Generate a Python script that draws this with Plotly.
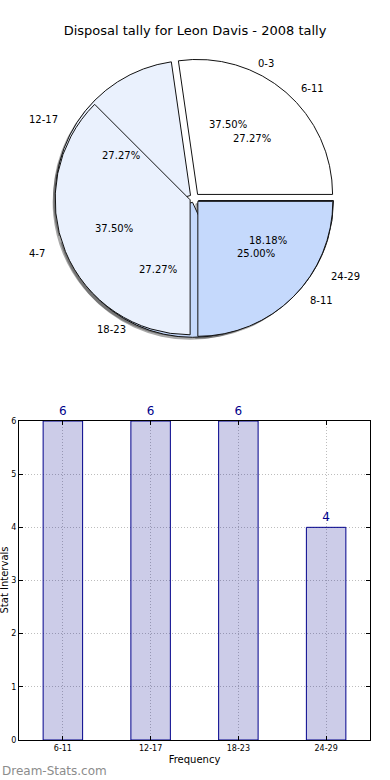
import math
import plotly.graph_objects as go

# ---------------- data ----------------
chart_title = "Disposal tally for Leon Davis - 2008 tally"
pie_a_labels = ["0-3", "4-7", "8-11"]
pie_a_values = [3, 3, 2]
pie_b_labels = ["6-11", "12-17", "18-23", "24-29"]
pie_b_values = [6, 6, 6, 4]
bar_categories = ["6-11", "12-17", "18-23", "24-29"]
bar_values = [6, 6, 6, 4]
y_tick_values = [0, 1, 2, 3, 4, 5, 6]
x_title = "Frequency"
y_title = "Stat Intervals"
watermark = "Dream-Stats.com"

# ---------------- layout geometry ----------------
W, H = 390, 780
ML, MR, MT, MB = 19, 20, 0, 40
PW, PH = W - ML - MR, H - MT - MB


def px2x(px):
    return (px - ML) / PW


def py2y(py):
    return 1 - (py - MT) / PH


CX, CY = 194.5, 198.0   # pie centre (px)
R = 135.0               # pie radius (px)
PULL = 0.035
RX, RY = 145.3, 131.9   # text placement radii (px)
half = R * (1 + PULL)


def dom(dx=0.0, dy=0.0):
    return dict(x=[px2x(CX - half + dx), px2x(CX + half + dx)],
                y=[py2y(CY + half + dy), py2y(CY - half + dy)])


LIGHT = "#eaf1fd"
BLUE = "#c5d9fc"
CLEAR = "rgba(255,255,255,0)"
EDGE = "#111111"
pie_a_colors = [CLEAR, LIGHT, BLUE]
pie_a_edges = [CLEAR, EDGE, EDGE]
pie_b_colors = ["#ffffff", LIGHT, BLUE, BLUE]
pie_b_edges = [EDGE] * 4

FONT = "DejaVu Sans"


def rotation_for(values):
    a1 = 360.0 * values[0] / sum(values)
    return 90 - a1


def pie(labels, values, colors, domain, line_w=1, line_c=EDGE):
    return go.Pie(labels=labels, values=values, sort=False,
                  direction="counterclockwise", rotation=rotation_for(values),
                  pull=[PULL] * len(values), domain=domain,
                  marker=dict(colors=colors, line=dict(color=line_c, width=line_w)),
                  textinfo="none", hoverinfo="label+percent", showlegend=False)


fig = go.Figure()
shadow = "rgba(40,40,40,0.4)"
fig.add_trace(pie(pie_b_labels, pie_b_values, [CLEAR, shadow, shadow, shadow], dom(-2.5, 2.5), 0))
fig.add_trace(pie(pie_a_labels, pie_a_values, [CLEAR, shadow, shadow], dom(-2.5, 2.5), 0))
fig.add_trace(pie(pie_b_labels, pie_b_values, pie_b_colors, dom(), 1, pie_b_edges))
fig.add_trace(pie(pie_a_labels, pie_a_values, pie_a_colors, dom(), 1, pie_a_edges))

annotations = []


def pie_text(labels, values):
    total = sum(values)
    start = 0.0
    for lab, v in zip(labels, values):
        sweep = 360.0 * v / total
        mid = math.radians(start + sweep / 2)
        start += sweep
        c, s = math.cos(mid), math.sin(mid)
        # category label
        annotations.append(dict(
            x=px2x(CX + 1.1 * RX * c), y=py2y(CY - 1.1 * RY * s),
            xref="paper", yref="paper", text=lab, showarrow=False,
            xanchor="left" if c > 0 else "right", yanchor="middle",
            font=dict(family=FONT, size=10, color="#000")))
        # percentage
        annotations.append(dict(
            x=px2x(CX + 0.6 * RX * c), y=py2y(CY - 0.6 * RY * s),
            xref="paper", yref="paper", text=f"{100.0 * v / total:.2f}%",
            showarrow=False, xanchor="center", yanchor="middle",
            font=dict(family=FONT, size=10, color="#000")))


pie_text(pie_a_labels, pie_a_values)
pie_text(pie_b_labels, pie_b_values)

# ---------------- bar chart ----------------
fig.add_trace(go.Bar(
    x=bar_categories, y=bar_values, width=0.45,
    marker=dict(color="rgba(0,0,139,0.2)", line=dict(color="#00008b", width=1)),
    text=[str(v) for v in bar_values], textposition="outside",
    textfont=dict(family=FONT, size=12, color="#00008b"),
    cliponaxis=False, showlegend=False, hoverinfo="x+y"))

axis_common = dict(showline=True, linecolor="#000", linewidth=1, mirror="ticks",
                   ticks="inside", ticklen=4, tickcolor="#000", automargin=False,
                   showgrid=True, gridcolor="#bdbdbd", griddash="1px,2px", gridwidth=1,
                   zeroline=False, tickfont=dict(family=FONT, size=8, color="#000"))

fig.update_layout(
    width=W, height=H,
    margin=dict(l=ML, r=MR, t=MT, b=MB, autoexpand=False),
    paper_bgcolor="#fff", plot_bgcolor="#fff",
    title=dict(text=chart_title, x=0.5, xref="container", xanchor="center",
               y=1 - 30 / H, yref="container", yanchor="middle", automargin=False,
               font=dict(family=FONT, size=13, color="#000")),
    xaxis=dict(domain=[0, 1], type="category", range=[-0.5, 3.5],
               title=dict(text=x_title, standoff=4,
                          font=dict(family=FONT, size=10, color="#000")),
               **axis_common),
    yaxis=dict(domain=[0, py2y(421)], range=[0, 6], tickvals=y_tick_values,
               **axis_common),
    font=dict(family=FONT),
)

annotations.append(dict(x=px2x(4), y=py2y(580.5), xref="paper", yref="paper",
                        text=y_title, textangle=-90, showarrow=False,
                        xanchor="center", yanchor="middle",
                        font=dict(family=FONT, size=10, color="#000")))
annotations.append(dict(x=px2x(0), y=py2y(771), xref="paper", yref="paper",
                        text=watermark, showarrow=False,
                        xanchor="left", yanchor="middle",
                        font=dict(family=FONT, size=12, color="#8c8c8c")))
fig.update_layout(annotations=annotations)

# the page's default 8px body margin would shift the whole figure; remove it
fig.write_html("out.html",
               config={"displayModeBar": False},
               post_script="document.body.style.margin='0';document.body.style.padding='0';")
